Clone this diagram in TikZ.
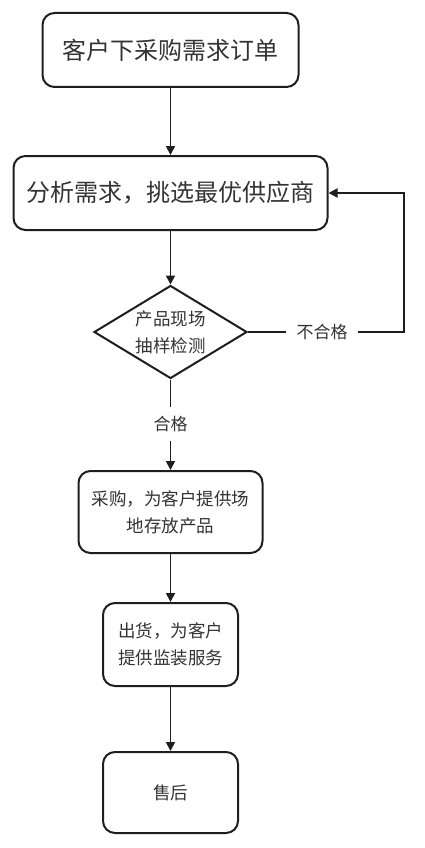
\documentclass[tikz,border=0pt]{standalone}
\usepackage{fontspec}
\setmainfont{Noto Sans CJK SC}
\usetikzlibrary{arrows.meta,shapes.geometric}
\definecolor{ink}{HTML}{1E1E1E}
\definecolor{txt}{HTML}{333333}
\tikzset{
  box/.style={draw=ink, line width=2pt, rounded corners=12pt, align=center, inner sep=0pt, text=txt},
  conn/.style={draw=ink, line width=1.8pt},
  arr/.style={conn, -{Triangle[length=9pt,width=9pt]}},
  big/.style={font=\fontsize{24}{30}\selectfont},
  small/.style={font=\fontsize{17.5}{27}\selectfont},
  lbl/.style={font=\fontsize{17}{20}\selectfont, text=txt, inner sep=0pt}
}
\begin{document}
\begin{tikzpicture}[x=1pt,y=-1pt]
\useasboundingbox (0,0) rectangle (425,848);
\node[box, big, minimum width=256pt, minimum height=74pt] (b1) at (170.5,50) {客户下采购需求订单};
\node[box, big, minimum width=314pt, minimum height=74pt] (b2) at (170.5,193) {分析需求，挑选最优供应商};
\node[diamond, draw=ink, line width=2pt, minimum width=153pt, minimum height=93pt, inner sep=0pt] (d) at (170.5,332) {};
\node[small, align=center, text=txt] (dt) at (d.center) {产品现场\\抽样检测};
\node[box, small, minimum width=184pt, minimum height=82pt] (b3) at (170.5,512) {采购，为客户提供场\\地存放产品};
\node[box, small, minimum width=135pt, minimum height=83pt] (b4) at (170.5,644.5) {出货，为客户\\提供监装服务};
\node[box, small, minimum width=135pt, minimum height=81pt] (b5) at (170.5,792.5) {售后};
\node[lbl, inner xsep=10pt] (nf) at (322,332) {不合格};
\node[lbl, inner ysep=9pt] (ok) at (170.5,424) {合格};
\coordinate (r) at (404,193);
\draw[arr] (b1.south) -- (b2.north);
\draw[arr] (b2.south) -- (d.north);
\draw[conn] (d.east) -- (nf.west);
\draw[arr] (nf.east) -| (r) -- (b2.east);
\draw[conn] (d.south) -- (ok.north);
\draw[arr] (ok.south) -- (b3.north);
\draw[arr] (b3.south) -- (b4.north);
\draw[arr] (b4.south) -- (b5.north);
\end{tikzpicture}
\end{document}
